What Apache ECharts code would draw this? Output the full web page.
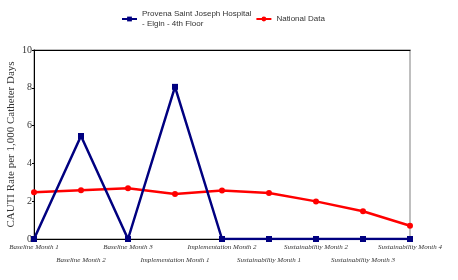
<!DOCTYPE html>
<html>
<head>
<meta charset="utf-8">
<script src="https://cdn.jsdelivr.net/npm/echarts@6/dist/echarts.min.js"></script>
<style>
  html, body { margin: 0; padding: 0; background: #fff; }
  #main { width: 458px; height: 280px; }
</style>
</head>
<body>
<div id="main"></div>
<script>
var months = ['Baseline Month 1', 'Baseline Month 2', 'Baseline Month 3',
  'Implementation Month 1', 'Implementation Month 2',
  'Sustainability Month 1', 'Sustainability Month 2',
  'Sustainability Month 3', 'Sustainability Month 4'];
var hospitalRate = [0, 5.45, 0, 8.05, 0, 0, 0, 0, 0];
var nationalRate = [2.47, 2.58, 2.68, 2.38, 2.56, 2.43, 1.99, 1.47, 0.7];
var yTicks = [0, 2, 4, 6, 8, 10];

var chartDom = document.getElementById('main');
var myChart = echarts.init(chartDom);
var option;

var hospName = 'Provena Saint Joseph Hospital\n- Elgin - 4th Floor';

option = {
    animation: false,
    legend: {
        top: 4,
        left: 116,
        itemWidth: 15,
        itemHeight: 6,
        itemGap: 4,
        textStyle: { fontFamily: 'Liberation Sans', fontSize: 8, color: '#333', lineHeight: 10 },
        data: [hospName, 'National Data']
    },
    grid: {
        left: 34, right: 48, top: 50, bottom: 41,
        outerBoundsMode: 'none',
        containLabel: false,
        show: true, borderColor: '#aaa', borderWidth: 1.5
    },
    xAxis: [{
        type: 'category',
        data: months,
        boundaryGap: false,
        axisLine: { lineStyle: { color: '#000', width: 1 } },
        axisTick: { show: false },
        axisLabel: {
            interval: 0,
            margin: 2,
            fontFamily: 'Liberation Serif',
            fontStyle: 'italic',
            fontSize: 7,
            color: '#333',
            lineHeight: 13,
            formatter: function (v, i) { return i % 2 === 1 ? '\n' + v : v; }
        }
    }, {
        type: 'category',
        position: 'top',
        data: months,
        boundaryGap: false,
        axisLine: { lineStyle: { color: '#000', width: 1 } },
        axisTick: { show: false },
        axisLabel: { show: false }
    }],
    yAxis: {
        type: 'value',
        min: yTicks[0],
        max: yTicks[yTicks.length - 1],
        interval: 2,
        name: 'CAUTI Rate per 1,000 Catheter Days',
        nameLocation: 'middle',
        nameGap: 17,
        nameMoveOverlap: false,
        nameTextStyle: { fontFamily: 'Liberation Serif', fontSize: 11, color: '#333' },
        axisLine: { show: true, lineStyle: { color: '#000', width: 1 } },
        axisTick: { show: true, length: 2, lineStyle: { color: '#000' } },
        splitLine: { show: false },
        axisLabel: { fontFamily: 'Liberation Serif', fontSize: 10, color: '#333', margin: 2 }
    },
    series: [
        {
            name: 'National Data',
            type: 'line',
            data: nationalRate,
            symbol: 'circle',
            symbolSize: 6,
            color: '#ff0000',
            lineStyle: { width: 2.5, color: '#ff0000' },
            itemStyle: { color: '#ff0000' },
            z: 2
        },
        {
            name: hospName,
            type: 'line',
            data: hospitalRate,
            symbol: 'rect',
            symbolSize: 6,
            color: '#000080',
            lineStyle: { width: 2.5, color: '#000080' },
            itemStyle: { color: '#000080' },
            z: 3
        }
    ]
};

option && myChart.setOption(option);
</script>
</body>
</html>
